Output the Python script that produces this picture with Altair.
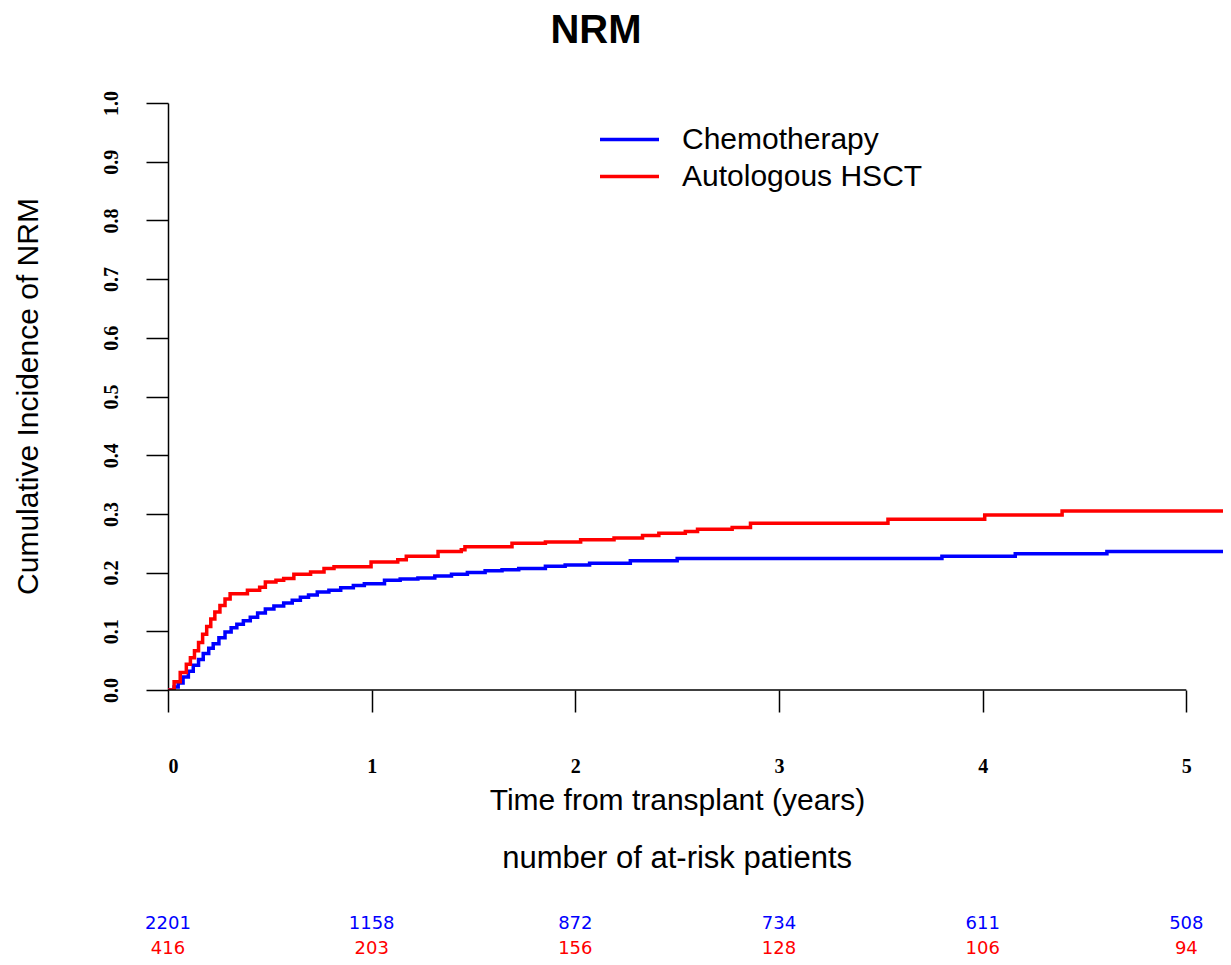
import altair as alt
import pandas as pd

# ---- data ----
groups = ["Chemotherapy", "Autologous HSCT"]
colors = ["#0000FF", "#FF0000"]

chemo_t = [0, 0.03, 0.05, 0.074, 0.10, 0.124, 0.15, 0.173, 0.20, 0.222, 0.25, 0.28, 0.31, 0.338,
           0.37, 0.404, 0.44, 0.478, 0.52, 0.568, 0.61, 0.65, 0.69, 0.733, 0.79, 0.848, 0.91,
           0.964, 1.063, 1.14, 1.227, 1.31, 1.392, 1.47, 1.557, 1.64, 1.722, 1.853, 1.95, 2.07,
           2.27, 2.50, 3.80, 4.16, 4.61, 5.3]
chemo_v = [0, 0.005, 0.012, 0.022, 0.032, 0.042, 0.052, 0.062, 0.071, 0.079, 0.089, 0.099, 0.106,
           0.112, 0.118, 0.124, 0.131, 0.138, 0.143, 0.148, 0.153, 0.158, 0.162, 0.167, 0.170,
           0.174, 0.178, 0.181, 0.187, 0.189, 0.191, 0.194, 0.197, 0.200, 0.203, 0.205, 0.207,
           0.211, 0.213, 0.216, 0.220, 0.224, 0.228, 0.232, 0.236, 0.236]

auto_t = [0, 0.03, 0.06, 0.09, 0.11, 0.13, 0.15, 0.17, 0.19, 0.21, 0.23, 0.255, 0.28, 0.305, 0.39,
          0.45, 0.478, 0.53, 0.568, 0.618, 0.70, 0.766, 0.815, 0.997, 1.128, 1.17, 1.326, 1.44,
          1.458, 1.689, 1.853, 2.026, 2.19, 2.33, 2.41, 2.54, 2.60, 2.77, 2.86, 3.535, 4.01, 4.39,
          5.3]
auto_v = [0, 0.014, 0.03, 0.044, 0.055, 0.067, 0.081, 0.095, 0.108, 0.121, 0.133, 0.144, 0.155,
          0.164, 0.170, 0.175, 0.184, 0.187, 0.190, 0.197, 0.201, 0.207, 0.210, 0.218, 0.222,
          0.228, 0.236, 0.239, 0.244, 0.250, 0.252, 0.256, 0.259, 0.263, 0.267, 0.270, 0.274,
          0.277, 0.284, 0.291, 0.298, 0.305, 0.305]

risk_times = [0, 1, 2, 3, 4, 5]
risk_chemo = [2201, 1158, 872, 734, 611, 508]
risk_auto = [416, 203, 156, 128, 106, 94]

x_ticks = [0, 1, 2, 3, 4, 5]
y_ticks = [0.0, 0.1, 0.2, 0.3, 0.4, 0.5, 0.6, 0.7, 0.8, 0.9, 1.0]
axis_ends = [0, 5]

# ---- tables ----
curves = pd.concat([
    pd.DataFrame({"time": chemo_t, "value": chemo_v, "group": groups[0]}),
    pd.DataFrame({"time": auto_t, "value": auto_v, "group": groups[1]}),
], ignore_index=True)
risk_c = pd.DataFrame({"time": risk_times, "n": [str(v) for v in risk_chemo]})
risk_a = pd.DataFrame({"time": risk_times, "n": [str(v) for v in risk_auto]})
xaxis_df = pd.DataFrame({"time": [axis_ends[0]], "time_end": [axis_ends[1]], "value": [0.0]})
mid_df = pd.DataFrame({"time": [sum(axis_ends) / 2]})

W, H = 1055, 587
x_scale = alt.Scale(domain=[0, 5.18], nice=False, zero=False)
y_scale = alt.Scale(domain=[0, 1], nice=False, zero=False)

x_axis = alt.Axis(
    values=x_ticks, format="d", domain=False, grid=False,
    tickSize=22, tickWidth=1.5, tickColor="black",
    labelFont="Liberation Serif", labelFontSize=20, labelFontWeight="bold", labelColor="black",
    labelPadding=44, labelBaseline="top",
    title="Time from transplant (years)", titleFont="Liberation Sans",
    titleFontSize=30, titleFontWeight="normal", titleColor="black",
    titleX=509, titleY=119, titleAlign="center", titleBaseline="alphabetic")
y_axis = alt.Axis(
    values=y_ticks, format=".1f", grid=False,
    domainColor="black", domainWidth=1.5,
    tickSize=22, tickWidth=1.5, tickColor="black",
    labelFont="Liberation Serif", labelFontSize=20, labelFontWeight="bold", labelColor="black",
    labelAngle=270, labelAlign="center", labelBaseline="alphabetic", labelPadding=29,
    title="Cumulative Incidence of NRM", titleFont="Liberation Sans",
    titleFontSize=30, titleFontWeight="normal", titleColor="black",
    titleAngle=270, titleX=-131, titleY=293, titleAlign="center",
    titleBaseline="alphabetic")

X = alt.X("time:Q", scale=x_scale, axis=x_axis)
Y = alt.Y("value:Q", scale=y_scale, axis=y_axis)

lines = alt.Chart(curves).mark_line(interpolate="step-after", strokeWidth=3.5, clip=True).encode(
    x=X, y=Y,
    color=alt.Color("group:N", scale=alt.Scale(domain=groups, range=colors), legend=alt.Legend(
        title=None, orient="none", legendX=430, legendY=19, padding=0,
        symbolType="stroke", symbolSize=3481, symbolStrokeWidth=3.5,
        labelFont="Liberation Sans", labelFontSize=30, labelColor="black",
        labelLimit=500, labelOffset=21, clipHeight=35, rowPadding=2)),
)

xline = alt.Chart(xaxis_df).mark_rule(color="black", strokeWidth=1.5).encode(
    x=X, x2="time_end:Q", y=Y,
)

title = alt.Chart(mid_df).mark_text(
    text="NRM", font="Liberation Sans", fontSize=40, fontWeight="bold",
    align="center", baseline="alphabetic", color="black"
).encode(x=alt.value(428), y=alt.value(-60))

risk_title = alt.Chart(mid_df).mark_text(
    text="number of at-risk patients", font="Liberation Sans", fontSize=31,
    align="center", baseline="alphabetic", color="black"
).encode(x=X, y=alt.value(765))

risk_blue = alt.Chart(risk_c).mark_text(
    font="DejaVu Sans", fontSize=18, align="center", baseline="alphabetic", color="#0000FF"
).encode(x=X, y=alt.value(826), text="n:N")

risk_red = alt.Chart(risk_a).mark_text(
    font="DejaVu Sans", fontSize=18, align="center", baseline="alphabetic", color="#FF0000"
).encode(x=X, y=alt.value(851), text="n:N")

chart = alt.layer(lines, xline, title, risk_title, risk_blue, risk_red).properties(
    width=W, height=H,
    autosize=alt.AutoSizeParams(type="none"),
    padding={"left": 160, "top": 95, "right": 0, "bottom": 267},
    background="white",
).configure_view(stroke=None)

chart.save("out.html", embed_options={"renderer": "svg", "actions": False})
